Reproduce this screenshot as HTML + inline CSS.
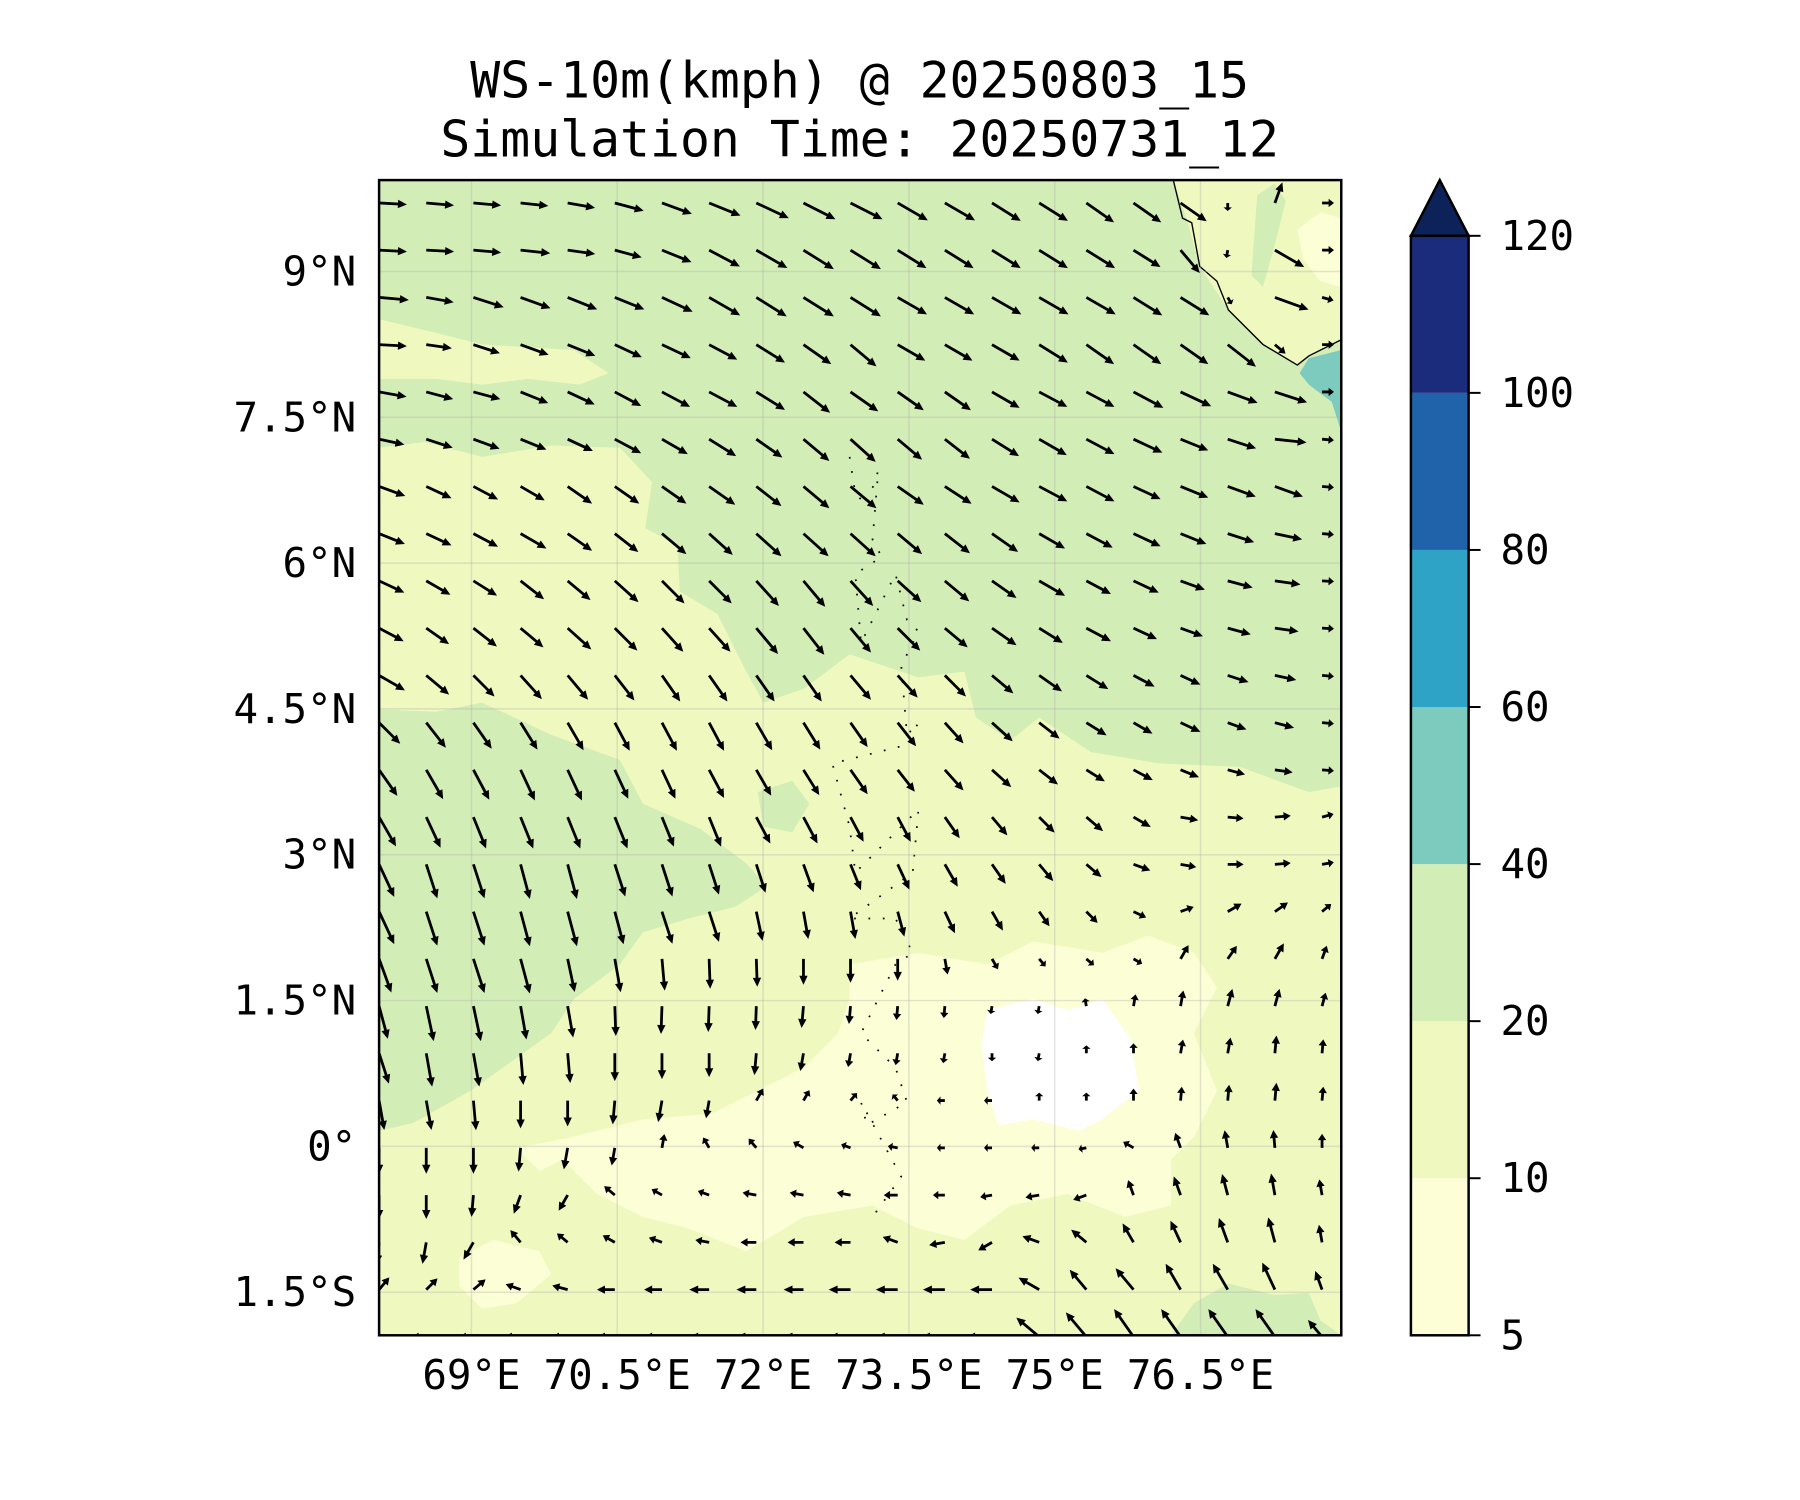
<!DOCTYPE html>
<html><head><meta charset="utf-8"><style>
html,body{margin:0;padding:0;background:#fff;}
svg{display:block;}
text{font-family:"DejaVu Sans Mono","Liberation Mono",monospace;fill:#000;}
</style></head><body>
<svg id="chart" width="1800" height="1500" viewBox="0 0 1800 1500" xmlns="http://www.w3.org/2000/svg">
<defs><clipPath id="plotclip"><rect x="381" y="181" width="967" height="1161"/></clipPath></defs>
<g transform="scale(0.995)">
<text x="864" y="81" font-size="50" text-anchor="middle" dominant-baseline="central">WS-10m(kmph) @ 20250803_15</text>
<text x="864" y="140" font-size="50" text-anchor="middle" dominant-baseline="central">Simulation Time: 20250731_12</text>
<g clip-path="url(#plotclip)">
 <g transform="scale(1.15385)">
  <rect x="330" y="157" width="838" height="1006" fill="#d3edb6"/>
  <polygon fill="#eff9bf" points="330,390 370,385 420,398 480,388 540,390 568,420 562,460 590,475 592,515 625,535 650,585 665,612 700,600 740,570 800,590 840,585 850,625 880,645 905,625 950,655 1010,665 1080,668 1140,690 1168,685 1168,1163 330,1163 330,985 360,978 410,950 445,925 480,900 500,870 540,840 560,812 600,800 640,790 668,772 650,752 610,722 560,700 540,662 480,640 420,612 380,620 330,618"/>
  <polygon fill="#eff9bf" points="330,278 380,290 420,300 500,305 530,325 505,335 460,330 420,335 380,330 330,330"/>
  <polygon fill="#eff9bf" points="355,400 380,398 382,412 360,415"/>
  <polygon fill="#d3edb6" points="660,690 690,680 705,700 690,725 665,720"/>
  <polygon fill="#d3edb6" points="1020,1163 1040,1135 1070,1118 1110,1128 1140,1126 1150,1150 1168,1163"/>
  <polygon fill="#fcfed5" points="740,840 800,830 860,840 900,820 960,830 1000,815 1040,830 1060,860 1040,900 1060,950 1040,990 1020,1010 1020,1050 980,1060 930,1040 880,1050 840,1080 800,1070 760,1050 700,1060 650,1090 600,1070 560,1060 520,1040 490,1010 470,1020 450,1000 500,990 560,975 620,970 660,950 700,930 730,900 740,870"/>
  <polygon fill="#fcfed5" points="400,1095 430,1080 470,1090 480,1110 450,1135 420,1140 400,1120"/>
  <polygon fill="#ffffff" points="860,880 900,870 930,880 960,870 985,905 992,950 960,975 940,985 900,975 870,980 860,950 855,910"/>
  <polygon fill="#7ccbbe" points="1140,312 1168,305 1168,375 1160,350 1140,335 1132,325"/>
  <polygon fill="#eff9bf" points="1022,157 1168,157 1168,296 1140,310 1130,318 1100,300 1070,270 1045,232 1035,195"/>
  <polygon fill="#fcfed5" points="1130,200 1150,185 1168,190 1168,250 1150,245 1135,225"/>
  <polygon fill="#d3edb6" points="1095,170 1110,160 1120,175 1110,215 1100,250 1090,240"/>
  <path d="M1022,157 L1030,190 L1038,194 L1045,232 L1060,245 L1070,270 L1100,300 L1130,318 L1140,310 L1168,296" fill="none" stroke="#000" stroke-width="1.2"/>
  <path d="M740,398 L745,430 L755,440 L765,410 L760,470 L768,485 L745,500 L750,560 L780,500 L790,540 L800,550 L785,580 L790,640 L800,630 L785,650 L725,665 L740,720 L745,760 L800,705 L795,760 L740,800 L780,800 L795,830 L780,840 L750,900 L780,930 L790,960 L755,980 L750,960 L785,1025 L760,1060" fill="none" stroke="#000" stroke-width="1.5" stroke-dasharray="1.5,11"/>
 </g>
 <g id="grid"></g>
 <g id="arrows"></g>
</g>
<rect x="381" y="181" width="967" height="1161" fill="none" stroke="#000" stroke-width="2.5"/>
<g id="xticks"></g>
<g id="yticks"></g>
<g id="cbar"></g>
</g>
<script>
const xTickVals = [69, 70.5, 72, 73.5, 75, 76.5];
const xTickLabels = ["69°E","70.5°E","72°E","73.5°E","75°E","76.5°E"];
const yTickVals = [9, 7.5, 6, 4.5, 3, 1.5, 0, -1.5];
const yTickLabels = ["9°N","7.5°N","6°N","4.5°N","3°N","1.5°N","0°","1.5°S"];
const cbarLevels = [5, 10, 20, 40, 60, 80, 100, 120];
const cbarColors = ["#fdfed5","#eff9bf","#d3edb6","#7ccbbe","#2fa3c6","#2163aa","#1c2c7d"];
const quiverLonStart = 68.05, quiverLonStep = 0.485;
const quiverLatStart = 9.705, quiverLatStep = 0.486;
const windAngle0=[3,5,5,6,10,15,20,22,25,27,27,30,30,32,32,35,35,35,90,-70,0];
const windAngle1=[3,3,5,6,8,15,22,28,30,32,32,32,32,32,32,32,32,50,100,30,0];
const windAngle2=[5,10,18,20,22,22,25,30,32,32,32,30,30,30,30,30,32,32,60,20,15];
const windAngle3=[3,8,18,20,22,25,25,28,32,35,40,30,30,30,32,35,35,35,38,40,0];
const windAngle4=[10,15,15,22,25,28,28,28,32,38,35,35,35,30,28,28,28,25,20,18,0];
const windAngle5=[12,18,20,22,25,28,30,32,35,40,42,40,38,32,30,28,25,22,18,6,5];
const windAngle6=[20,25,28,30,35,35,35,35,38,40,40,35,33,30,28,28,25,22,20,20,5];
const windAngle7=[22,25,28,30,35,38,40,42,42,42,42,40,38,35,30,28,25,22,18,12,5];
const windAngle8=[25,30,32,38,40,42,45,45,48,50,48,42,40,35,30,28,25,20,15,8,3];
const windAngle9=[28,35,38,40,42,45,48,48,50,52,50,45,40,35,32,28,25,20,15,8,3];
const windAngle10=[30,40,45,48,50,52,55,55,55,55,50,48,45,40,35,32,28,25,18,12,5];
const windAngle11=[45,52,55,58,60,62,62,62,60,58,55,52,48,42,38,32,30,25,20,15,5];
const windAngle12=[55,60,62,65,65,65,65,62,60,58,55,52,48,42,38,32,28,22,15,8,5];
const windAngle13=[60,65,68,68,68,68,68,68,62,62,62,62,55,50,45,40,30,10,5,-5,-15];
const windAngle14=[65,72,72,75,75,72,72,72,72,70,68,65,60,55,50,40,20,10,0,-5,-10];
const windAngle15=[65,72,72,75,75,75,72,72,78,80,80,75,65,60,55,45,25,-20,-30,-35,-40];
const windAngle16=[70,72,72,75,78,80,85,88,88,90,90,90,80,60,50,40,30,-60,-55,-60,-70];
const windAngle17=[75,78,78,80,80,88,92,92,92,95,95,95,95,100,100,-100,-80,-80,-75,-75,-75];
const windAngle18=[72,80,80,85,85,90,90,90,95,100,100,100,100,90,100,-90,-90,-80,-80,-85,-85];
const windAngle19=[80,80,85,90,90,95,100,100,-60,-60,-50,-130,180,180,-90,-90,-90,-85,-85,-85,-85];
const windAngle20=[90,90,90,95,100,100,-80,-120,-130,-150,-160,-170,180,180,180,170,-150,-110,-100,-95,-90];
const windAngle21=[90,90,95,110,120,-140,-150,-160,-170,-170,-170,180,180,170,170,160,-110,-110,-105,-100,-100];
const windAngle22=[95,100,120,-130,-140,-150,-160,-170,180,180,180,-160,170,150,-160,-140,-120,-115,-110,-105,-100];
const windAngle23=[-50,-45,-40,-160,-165,180,180,180,180,180,180,180,180,180,-150,-130,-130,-120,-120,-115,-110];
const windAngle24=[180,180,180,180,180,180,180,180,180,180,180,180,180,180,-140,-130,-125,-125,-125,-125,-130];
const windLen0=[28,28,28,28,28,30,32,34,36,36,36,35,35,34,34,34,34,32,8,22,12];
const windLen1=[28,28,28,30,28,28,32,35,36,36,36,34,34,34,34,34,32,30,8,34,12];
const windLen2=[30,28,32,32,32,32,34,36,36,36,36,34,34,34,34,34,34,34,8,36,12];
const windLen3=[28,26,28,30,30,30,32,32,34,34,34,32,32,32,34,34,34,34,36,14,12];
const windLen4=[28,28,28,30,30,30,32,32,34,34,34,32,32,32,32,32,34,34,32,34,12];
const windLen5=[26,28,28,28,28,30,30,32,32,34,34,32,32,32,32,32,32,30,30,32,12];
const windLen6=[28,28,28,28,30,30,30,32,32,34,34,32,32,32,32,32,30,30,30,30,12];
const windLen7=[28,28,28,30,30,30,32,32,34,34,34,32,32,32,30,30,30,28,28,28,12];
const windLen8=[28,28,28,30,30,32,32,32,34,34,34,32,32,30,30,28,28,26,26,26,12];
const windLen9=[28,28,30,30,32,32,32,32,34,34,32,32,30,30,28,28,26,24,24,24,12];
const windLen10=[30,30,30,32,32,32,32,32,32,32,32,30,30,28,28,26,24,22,22,22,12];
const windLen11=[30,32,32,32,32,32,32,32,32,32,30,30,28,28,26,24,22,22,20,20,12];
const windLen12=[32,34,34,34,34,32,32,32,30,30,30,28,28,26,24,22,22,20,18,18,12];
const windLen13=[34,34,34,34,34,34,32,32,30,30,28,28,26,24,22,22,20,18,16,16,12];
const windLen14=[36,36,36,36,36,34,34,32,30,30,28,28,26,24,22,20,18,16,16,16,12];
const windLen15=[36,36,36,36,36,34,34,32,30,28,28,26,24,22,18,16,14,14,16,16,12];
const windLen16=[36,36,36,36,34,34,32,30,28,26,24,22,16,12,10,10,10,16,16,18,14];
const windLen17=[34,36,36,34,32,30,28,26,24,22,18,14,12,8,8,8,12,16,18,18,14];
const windLen18=[32,34,34,32,30,28,26,24,22,18,14,12,10,8,8,8,10,14,16,18,14];
const windLen19=[30,30,30,28,26,24,22,18,14,12,10,8,8,8,8,8,12,14,16,18,14];
const windLen20=[26,26,26,24,22,18,14,12,12,12,10,10,8,8,8,8,12,16,18,18,14];
const windLen21=[24,24,22,20,18,14,12,12,14,14,14,14,12,12,14,14,16,20,22,22,16];
const windLen22=[22,22,20,16,14,14,14,14,16,16,16,16,16,16,18,20,22,24,26,26,18];
const windLen23=[16,16,16,16,16,18,18,20,20,20,22,22,22,22,24,26,28,30,30,30,20];
const windLen24=[14,14,14,16,16,18,18,20,20,20,22,22,24,26,30,32,34,34,34,34,22];
const windAngles=[windAngle0,windAngle1,windAngle2,windAngle3,windAngle4,windAngle5,windAngle6,windAngle7,windAngle8,windAngle9,windAngle10,windAngle11,windAngle12,windAngle13,windAngle14,windAngle15,windAngle16,windAngle17,windAngle18,windAngle19,windAngle20,windAngle21,windAngle22,windAngle23,windAngle24];
const windLens=[windLen0,windLen1,windLen2,windLen3,windLen4,windLen5,windLen6,windLen7,windLen8,windLen9,windLen10,windLen11,windLen12,windLen13,windLen14,windLen15,windLen16,windLen17,windLen18,windLen19,windLen20,windLen21,windLen22,windLen23,windLen24];

const NS="http://www.w3.org/2000/svg";
const PX_PER_DEG = 97.7;
function xScale(lon){ return 381 + (lon - 68.05) * PX_PER_DEG; }
function yScale(lat){ return 181 + (9.94 - lat) * PX_PER_DEG; }
const CB_X = 1418, CB_W = 58, CB_TOP = 237, CB_BOT = 1342;
function cbScale(i){ return CB_BOT - i * (CB_BOT - CB_TOP) / (cbarLevels.length - 1); }
function mk(tag, attrs, parent){ const e=document.createElementNS(NS,tag); for(const k in attrs) e.setAttribute(k,attrs[k]); parent.appendChild(e); return e; }

const grid=document.getElementById('grid');
xTickVals.forEach((v,i)=>{
  const x=xScale(v);
  const gl=mk('line',{x1:x,x2:x,y1:181,y2:1342,stroke:'#b0b0b0','stroke-opacity':0.35,'stroke-width':1.5},grid);
  
  
  const t=mk('text',{x:x,y:1382,'font-size':41,'text-anchor':'middle','dominant-baseline':'central'},document.getElementById('xticks'));
  t.textContent=xTickLabels[i];
  
  
});
yTickVals.forEach((v,i)=>{
  const y=yScale(v);
  const gl=mk('line',{x1:381,x2:1348,y1:y,y2:y,stroke:'#b0b0b0','stroke-opacity':0.35,'stroke-width':1.5},grid);
  
  
  const t=mk('text',{x:358,y:y,'font-size':41,'text-anchor':'end','dominant-baseline':'central'},document.getElementById('yticks'));
  t.textContent=yTickLabels[i];
  
  
});

const arrows=document.getElementById('arrows');
windAngles.forEach((row,j)=>{
  row.forEach((ang,i)=>{
    const L=windLens[j][i];
    const x0=xScale(quiverLonStart+i*quiverLonStep), y0=yScale(quiverLatStart-j*quiverLatStep);
    const g=mk('g',{transform:`translate(${x0.toFixed(1)},${y0.toFixed(1)}) rotate(${ang})`},arrows);
    
    
    const hl=Math.min(9,L*0.45), hw=4.2, sw=1.4;
    mk('polygon',{points:`0,${-sw} ${L-hl},${-sw} ${L-hl},${-hw} ${L},0 ${L-hl},${hw} ${L-hl},${sw} 0,${sw}`,fill:'#000'},g);
  });
});

const cb=document.getElementById('cbar');
cbarColors.forEach((c,i)=>{
  const y1=cbScale(i+1), y0=cbScale(i);
  const r=mk('rect',{x:CB_X,y:y1,width:CB_W,height:y0-y1,fill:c},cb);
  
  
});
const tri=mk('polygon',{points:`${CB_X},${CB_TOP} ${CB_X+CB_W/2},181 ${CB_X+CB_W},${CB_TOP}`,fill:'#0c2258',stroke:'#000','stroke-width':2.5},cb);


const fr=mk('rect',{x:CB_X,y:CB_TOP,width:CB_W,height:CB_BOT-CB_TOP,fill:'none',stroke:'#000','stroke-width':2.5},cb);


cbarLevels.forEach((v,i)=>{
  const y=cbScale(i);
  mk('line',{x1:CB_X+CB_W,x2:CB_X+CB_W+12,y1:y,y2:y,stroke:'#000','stroke-width':2},cb);
  const t=mk('text',{x:1508,y:y,'font-size':41,'dominant-baseline':'central'},cb);
  t.textContent=String(v);
  
  
});
</script>
</svg>
</body></html>
